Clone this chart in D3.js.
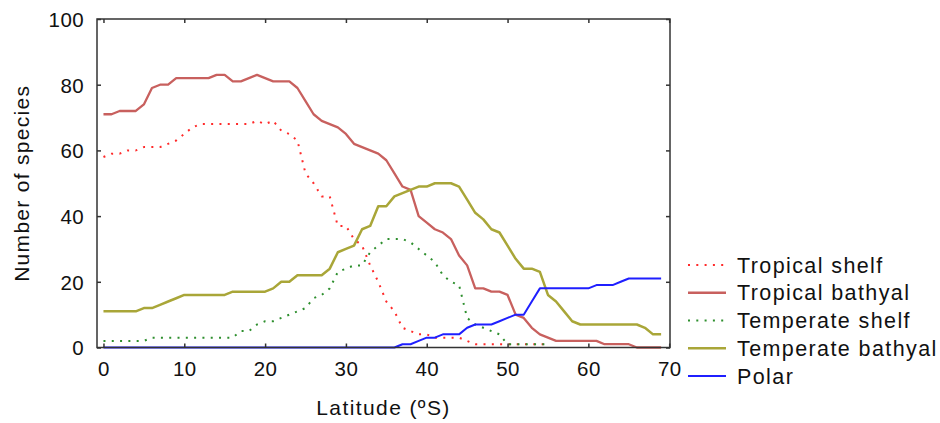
<!DOCTYPE html>
<html>
<head>
<meta charset="utf-8">
<script src="https://cdn.jsdelivr.net/npm/d3@7"></script>
<style>
  html, body { margin: 0; padding: 0; background: #fff; }
  svg { display: block; }
  text { font-family: "Liberation Sans", Arial, sans-serif; fill: #111; }
</style>
</head>
<body>
<svg id="chart" width="940" height="423"></svg>
<script>
const latitudes = [0,1,2,3,4,5,6,7,8,9,10,11,12,13,14,15,16,17,18,19,20,21,22,23,24,25,26,27,28,29,30,31,32,33,34,35,36,37,38,39,40,41,42,43,44,45,46,47,48,49,50,51,52,53,54,55,56,57,58,59,60,61,62,63,64,65,66,67,68,69];

const tropicalShelf = [58,59,59,60,60,61,61,61,62,63,65,67,68,68,68,68,68,68,68,69,68,69,66,65,63,53,50,46,46,37,37,33,31,25,20,14,11,6,5,4,4,3,3,3,3,2,1,1,1,1,1,1,1,1,1,1];
const tropicalBathyal = [71,71,72,72,72,74,79,80,80,82,82,82,82,82,83,83,81,81,82,83,82,81,81,81,79,75,71,69,68,67,65,62,61,60,59,57,53,49,48,40,38,36,35,33,28,25,18,18,17,17,16,10,9,6,4,3,2,2,2,2,2,2,1,1,1,1,0,0,0,0];
const temperateShelf = [2,2,2,2,2,2,3,3,3,3,3,3,3,3,3,3,3,5,5,7,8,8,9,10,11,12,15,16,18,23,24,25,25,29,31,33,33,33,32,30,28,26,22,20,19,9,7,6,5,4,1,1,1,1,1,1];
const temperateBathyal = [11,11,11,11,11,12,12,13,14,15,16,16,16,16,16,16,17,17,17,17,17,18,20,20,22,22,22,22,24,29,30,31,36,37,43,43,46,47,48,49,49,50,50,50,49,45,41,39,36,35,31,27,24,24,23,16,14,11,8,7,7,7,7,7,7,7,7,6,4,4];
const polar = [0,0,0,0,0,0,0,0,0,0,0,0,0,0,0,0,0,0,0,0,0,0,0,0,0,0,0,0,0,0,0,0,0,0,0,0,0,1,1,2,3,3,4,4,4,6,7,7,7,8,9,10,10,14,18,18,18,18,18,18,18,19,19,19,20,21,21,21,21,21];

const seriesNames = ["Tropical shelf","Tropical bathyal","Temperate shelf","Temperate bathyal","Polar"];
const seriesValues = [tropicalShelf, tropicalBathyal, temperateShelf, temperateBathyal, polar];
const xTicks = [0,10,20,30,40,50,60,70];
const yTicks = [0,20,40,60,80,100];
const xTitle = "Latitude (ºS)";
const yTitle = "Number of species";

const styles = [
  {color:"#ff2a2a", width:2.0, dash:"2,6.3"},
  {color:"#c8605e", width:2.3, dash:null},
  {color:"#2e8f2e", width:2.0, dash:"2,6.3"},
  {color:"#a9a638", width:2.5, dash:null},
  {color:"#1f1fff", width:2.0, dash:null}
];

const svg = d3.select("#chart");
const L = 97, R = 670, T = 19, B = 347.5;
const x = d3.scaleLinear().domain([-0.8, 70.1]).range([L, R]);
const y = d3.scaleLinear().domain([0, 100]).range([B, T]);

// lines
const line = d3.line().x(d => x(d[0])).y(d => y(d[1]));
seriesValues.forEach((vals, i) => {
  const pts = vals.map((v, j) => [latitudes[j], v]);
  const p = svg.append("path").datum(pts)
    .attr("d", line)
    .attr("fill", "none")
    .attr("stroke", styles[i].color)
    .attr("stroke-width", styles[i].width)
    .attr("stroke-linejoin", "round");
  if (styles[i].dash) p.attr("stroke-dasharray", styles[i].dash).attr("stroke-linecap", "butt");
});

// frame
const frameColor = "#333";
svg.append("rect").attr("x", L).attr("y", T).attr("width", R - L).attr("height", B - T)
  .attr("fill", "none").attr("stroke", frameColor).attr("stroke-width", 1.5);

// axes with inward ticks
const tickLen = 4;
const gx = svg.append("g").attr("transform", `translate(0,${B})`)
  .call(d3.axisBottom(x).tickValues(xTicks).tickSizeInner(-tickLen).tickSizeOuter(0).tickPadding(14));
const gxTop = svg.append("g").attr("transform", `translate(0,${T})`)
  .call(d3.axisTop(x).tickValues(xTicks).tickSizeInner(-tickLen).tickSizeOuter(0).tickFormat(""));
const gy = svg.append("g").attr("transform", `translate(${L},0)`)
  .call(d3.axisLeft(y).tickValues(yTicks).tickSizeInner(-tickLen).tickSizeOuter(0).tickPadding(13));
const gyR = svg.append("g").attr("transform", `translate(${R},0)`)
  .call(d3.axisRight(y).tickValues(yTicks).tickSizeInner(-tickLen).tickSizeOuter(0).tickFormat(""));
[gx, gxTop, gy, gyR].forEach(g => {
  g.select(".domain").remove();
  g.selectAll(".tick line").attr("stroke", frameColor).attr("stroke-width", 1.5);
  g.selectAll("text").attr("font-family", "Liberation Sans, Arial, sans-serif")
    .attr("font-size", 20.5).attr("fill", "#111").style("letter-spacing", "0.4px");
});
gy.selectAll(".tick text").attr("dy", "0.36em");
gx.selectAll(".tick text").attr("dy", "0.71em");

// axis titles
svg.append("text").attr("x", (L + R) / 2).attr("y", 415)
  .attr("text-anchor", "middle").attr("font-size", 21).style("letter-spacing", "1.4px")
  .text(xTitle);
svg.append("text").attr("transform", `translate(29,${(T + B) / 2}) rotate(-90)`)
  .attr("text-anchor", "middle").attr("font-size", 21).style("letter-spacing", "1.3px")
  .text(yTitle);

// legend
const legY0 = 265, legDy = 27.75;
seriesNames.forEach((name, i) => {
  const ly = legY0 + i * legDy;
  const l = svg.append("line").attr("x1", 688).attr("x2", 726).attr("y1", ly).attr("y2", ly)
    .attr("stroke", styles[i].color).attr("stroke-width", styles[i].width);
  if (styles[i].dash) l.attr("stroke-dasharray", styles[i].dash);
  svg.append("text").attr("x", 737).attr("y", ly).attr("dy", "0.36em")
    .attr("font-size", 21.5).style("letter-spacing", "1.4px").text(name);
});
</script>
</body>
</html>
